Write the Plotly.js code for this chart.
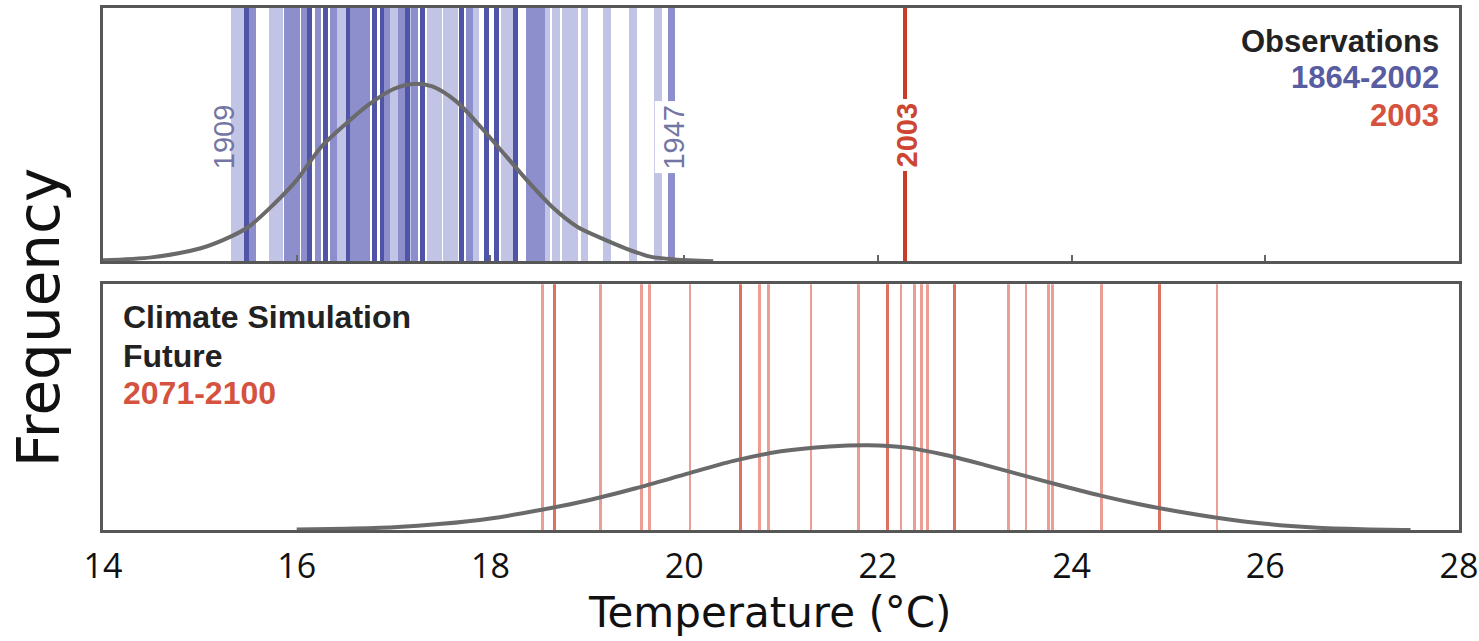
<!DOCTYPE html>
<html>
<head>
<meta charset="utf-8">
<script src="https://cdn.plot.ly/plotly-3.0.1.min.js"></script>
<style>html,body{margin:0;padding:0;background:#fff;}#chart{width:1479px;height:641px;}</style>
</head>
<body>
<div id="chart"></div>
<script>
// Observed summer temperatures 1864-2002 (°C), grouped by shade as drawn
const obsLight  = [15.36, 15.43, 15.75, 15.82, 16.43, 16.47, 16.62, 16.99, 17.02, 17.19, 17.38, 17.46, 17.55, 17.63, 17.84, 18.15, 18.21, 18.58, 18.68, 18.78, 18.86, 18.97, 19.20, 19.47, 19.73];
const obsMedium = [15.54, 15.90, 15.93, 16.00, 16.08, 16.22, 16.38, 16.58, 16.65, 16.72, 16.93, 17.08, 17.22, 17.78, 18.40, 18.47, 18.53, 19.87];
const obsDark   = [15.48, 16.13, 16.30, 16.53, 16.80, 16.88, 17.14, 17.30, 17.70, 17.96, 18.06, 18.26];
const obs2003   = [22.28];
// Simulated 2071-2100 summers (°C)
const simLight  = [18.54, 19.14, 19.56, 19.64, 20.06, 20.78, 20.87, 21.31, 21.80, 22.24, 22.38, 22.45, 22.51, 23.35, 23.53, 23.76, 23.80, 24.31, 25.50];
const simDark   = [18.66, 20.58, 22.10, 22.79, 24.91];
// Fitted distribution curves, relative frequency
const obsCurveT = [14.00, 14.50, 15.00, 15.25, 15.50, 15.75, 16.00, 16.25, 16.50, 16.75, 17.00, 17.20, 17.40, 17.65, 17.90, 18.15, 18.40, 18.65, 18.90, 19.15, 19.40, 19.65, 19.90, 20.30];
const obsCurveF = [0.004, 0.015, 0.05, 0.085, 0.135, 0.22, 0.32, 0.45, 0.54, 0.62, 0.68, 0.70, 0.69, 0.63, 0.53, 0.42, 0.31, 0.21, 0.135, 0.09, 0.05, 0.018, 0.007, 0.0];
const simCurveT = [16.0, 16.5, 17.0, 17.5, 18.0, 18.5, 19.0, 19.5, 20.0, 20.5, 21.0, 21.5, 21.9, 22.3, 22.7, 23.1, 23.5, 23.9, 24.3, 24.7, 25.1, 25.5, 26.0, 26.5, 27.0, 27.5];
const simCurveF = [0.002, 0.005, 0.011, 0.025, 0.047, 0.08, 0.12, 0.17, 0.225, 0.28, 0.32, 0.34, 0.345, 0.335, 0.305, 0.265, 0.222, 0.18, 0.14, 0.105, 0.075, 0.05, 0.025, 0.01, 0.003, 0.0];
const tickVals = [14, 16, 18, 20, 22, 24, 26, 28];
const tickText = ['14', '16', '18', '20', '22', '24', '26', '28'];

const ones = a => a.map(() => 1);
function bars(x, color, w, xa, ya) {
  return {type: 'bar', x: x, y: ones(x), width: w, xaxis: xa, yaxis: ya,
    marker: {color: color, line: {width: 0}}, hoverinfo: 'skip', showlegend: false};
}

const traces = [
  bars(obsLight, 'rgb(194,196,229)', 0.08, 'x', 'y'),
  bars(obsMedium, 'rgb(140,143,204)', 0.07, 'x', 'y'),
  bars(obsDark, 'rgb(80,84,166)', 0.05, 'x', 'y'),
  bars(obs2003, 'rgb(200,60,38)', 0.035, 'x', 'y'),
  {type: 'scatter', mode: 'lines', x: obsCurveT, y: obsCurveF, xaxis: 'x', yaxis: 'y',
   line: {color: '#6a6a6a', width: 4, shape: 'spline', smoothing: 0.8}, hoverinfo: 'skip', showlegend: false},
  bars(simLight, 'rgb(236,158,148)', 0.028, 'x2', 'y2'),
  bars(simDark, 'rgb(222,112,98)', 0.03, 'x2', 'y2'),
  {type: 'scatter', mode: 'lines', x: simCurveT, y: simCurveF, xaxis: 'x2', yaxis: 'y2',
   line: {color: '#6a6a6a', width: 4, shape: 'spline', smoothing: 0.8}, hoverinfo: 'skip', showlegend: false}
];

const boxAxis = {showline: true, mirror: true, linecolor: '#575757', linewidth: 3,
  showgrid: false, zeroline: false, fixedrange: true};

const bold = {family: 'Liberation Sans, Arial, sans-serif', size: 31, weight: 'bold'};
const bold2 = {family: 'Liberation Sans, Arial, sans-serif', size: 32, weight: 'bold'};
const layout = {
  width: 1479, height: 641,
  margin: {l: 103, r: 20, t: 8, b: 111},
  paper_bgcolor: '#fff', plot_bgcolor: '#fff',
  barmode: 'overlay', bargap: 0,
  showlegend: false,
  xaxis: Object.assign({}, boxAxis, {range: [14, 28], anchor: 'y', ticks: 'inside',
    tickvals: [16, 18, 20, 22, 24, 26], ticklen: 6, tickwidth: 2, tickcolor: '#666', showticklabels: false}),
  yaxis: Object.assign({}, boxAxis, {domain: [0.515, 1], range: [0, 1], showticklabels: false, ticks: ''}),
  xaxis2: Object.assign({}, boxAxis, {range: [14, 28], anchor: 'y2', ticks: '',
    tickvals: tickVals, ticktext: tickText, ticklabelstandoff: 4,
    tickfont: {family: 'Open Sans, sans-serif', size: 34, color: '#111'}}),
  yaxis2: Object.assign({}, boxAxis, {domain: [0, 0.471], range: [0, 1], showticklabels: false, ticks: ''}),
  annotations: [
    {xref: 'x', yref: 'y', x: 15.25, y: 0.49, text: '1909', textangle: -90, showarrow: false,
     font: {family: 'Liberation Sans, Arial, sans-serif', size: 29, color: 'rgb(115,118,165)'}},
    {xref: 'x', yref: 'y', x: 19.90, y: 0.49, text: '1947', textangle: -90, showarrow: false, bgcolor: '#fff', borderpad: 3,
     font: {family: 'Liberation Sans, Arial, sans-serif', size: 29, color: 'rgb(115,118,165)'}},
    {xref: 'x', yref: 'y', x: 22.30, y: 0.50, text: '<b>2003</b>', textangle: -90, showarrow: false, bgcolor: '#fff', borderpad: 3,
     font: {family: 'Liberation Sans, Arial, sans-serif', size: 29, color: 'rgb(205,70,50)'}},
    {xref: 'paper', yref: 'paper', x: 0.9867, y: 0.935, xanchor: 'right', yanchor: 'middle', showarrow: false,
     text: 'Observations', font: Object.assign({}, bold, {color: '#222'})},
    {xref: 'paper', yref: 'paper', x: 0.9867, y: 0.866, xanchor: 'right', yanchor: 'middle', showarrow: false,
     text: '1864-2002', font: Object.assign({}, bold, {color: 'rgb(88,92,160)'})},
    {xref: 'paper', yref: 'paper', x: 0.9867, y: 0.795, xanchor: 'right', yanchor: 'middle', showarrow: false,
     text: '2003', font: Object.assign({}, bold, {color: 'rgb(212,82,62)'})},
    {xref: 'paper', yref: 'paper', x: 0.0133, y: 0.408, xanchor: 'left', yanchor: 'middle', showarrow: false,
     text: 'Climate Simulation', font: Object.assign({}, bold2, {color: '#222'})},
    {xref: 'paper', yref: 'paper', x: 0.0133, y: 0.333, xanchor: 'left', yanchor: 'middle', showarrow: false,
     text: 'Future', font: Object.assign({}, bold2, {color: '#222'})},
    {xref: 'paper', yref: 'paper', x: 0.0133, y: 0.262, xanchor: 'left', yanchor: 'middle', showarrow: false,
     text: '2071-2100', font: Object.assign({}, bold2, {color: 'rgb(212,82,62)'})},
    {xref: 'paper', yref: 'paper', x: -0.047, y: 0.408, xanchor: 'center', yanchor: 'middle', showarrow: false,
     text: 'Frequency', textangle: -90, font: {family: 'DejaVu Sans, sans-serif', size: 58, color: '#111'}},
    {xref: 'paper', yref: 'paper', x: 0.492, y: -0.158, xanchor: 'center', yanchor: 'middle', showarrow: false,
     text: 'Temperature (°C)', font: {family: 'DejaVu Sans, sans-serif', size: 42, color: '#111'}}
  ]
};

Plotly.newPlot('chart', traces, layout, {staticPlot: true, displayModeBar: false});
</script>
</body>
</html>
